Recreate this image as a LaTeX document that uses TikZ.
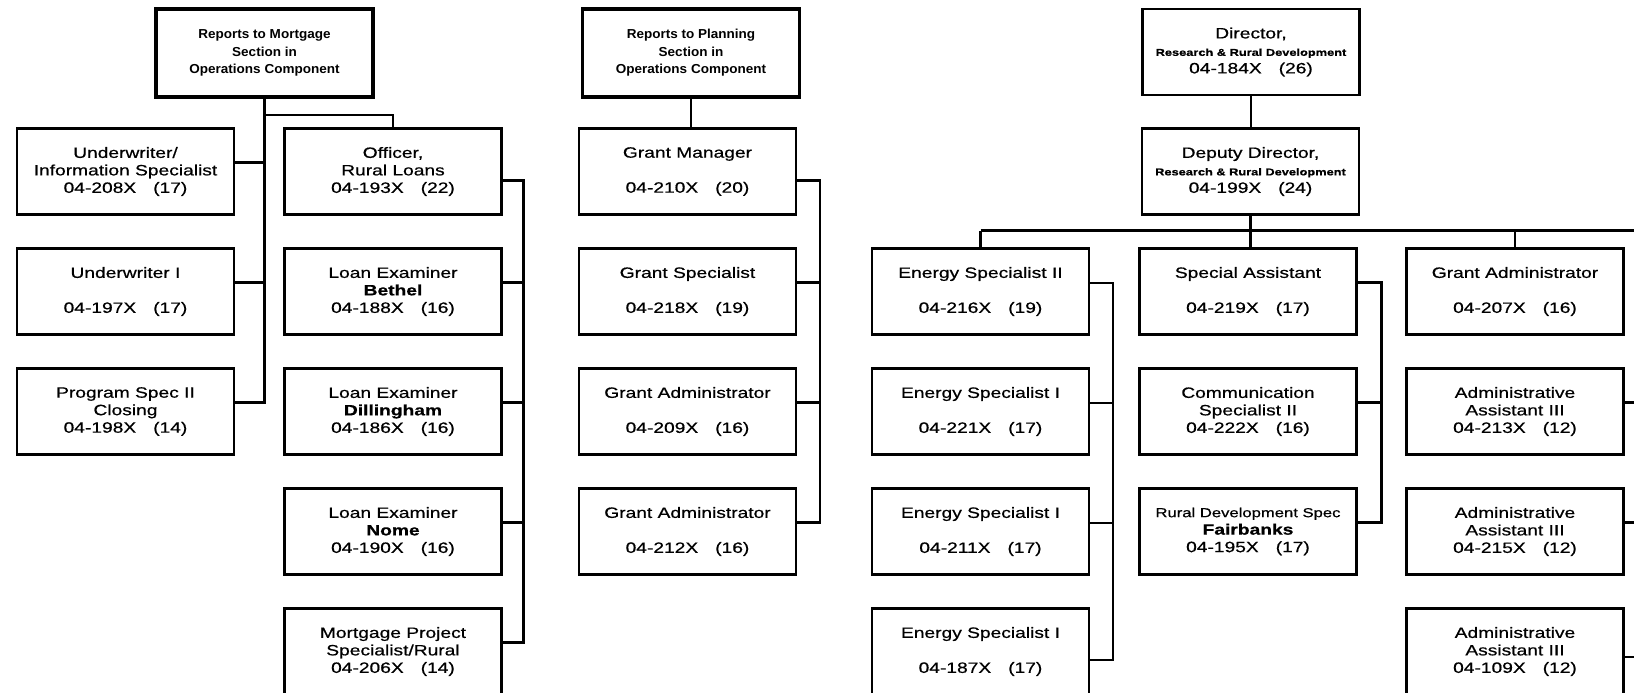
\documentclass[tikz,border=0pt]{standalone}
\usepackage{fontspec}
\setmainfont{Liberation Sans}
\newfontfamily\boxfont[FakeStretch=1.28, FakeBold=0.6]{Liberation Sans}
\newfontfamily\headfont[FakeStretch=1.04]{Liberation Sans}
\usetikzlibrary{calc}

% position code and grade, e.g. 04-208X   (17)
\newcommand\posnum[2]{#1\hspace{17pt}(#2)}
% small bold line under a title
\newcommand\subline[1]{{\fontsize{10}{17.5}\selectfont\bfseries #1}}

\tikzset{
  post/.style={draw, rectangle, line width=2.2pt, minimum width=217pt,
    minimum height=86pt, inner sep=0pt, align=center,
    font=\boxfont\fontsize{15}{17.5}\selectfont},
  head/.style={post, line width=3.5pt, minimum height=88pt,
    font=\headfont\fontsize{13}{17.5}\selectfont\bfseries},
  conn/.style={draw, line width=2.4pt},
}

\begin{document}
\begin{tikzpicture}[x=1pt, y=-1pt]
\useasboundingbox (0,0) rectangle (1634,693);
\clip (0,0) rectangle (1634,693);
\fill[white] (0,0) rectangle (1634,693);

% ---------------- Mortgage section ----------------
\node[head] (mort) at (264.5,53) {Reports to Mortgage\\Section in\\Operations Component};

\node[post] (a1) at (125.5,171.5) {Underwriter/\\Information Specialist\\\posnum{04-208X}{17}};
\node[post] (a2) at (125.5,291.5) {Underwriter I\\[17.5pt]\posnum{04-197X}{17}};
\node[post] (a3) at (125.5,411.5) {Program Spec II\\Closing\\\posnum{04-198X}{14}};

\node[post] (b1) at (393,171.5) {Officer,\\Rural Loans\\\posnum{04-193X}{22}};
\node[post] (b2) at (393,291.5) {Loan Examiner\\\textbf{Bethel}\\\posnum{04-188X}{16}};
\node[post] (b3) at (393,411.5) {Loan Examiner\\\textbf{Dillingham}\\\posnum{04-186X}{16}};
\node[post] (b4) at (393,531.5) {Loan Examiner\\\textbf{Nome}\\\posnum{04-190X}{16}};
\node[post] (b5) at (393,651.5) {Mortgage Project\\Specialist/Rural\\\posnum{04-206X}{14}};

% ---------------- Planning section ----------------
\node[head] (plan) at (691,53) {Reports to Planning\\Section in\\Operations Component};

\node[post] (g1) at (687.5,171.5) {Grant Manager\\[17.5pt]\posnum{04-210X}{20}};
\node[post] (g2) at (687.5,291.5) {Grant Specialist\\[17.5pt]\posnum{04-218X}{19}};
\node[post] (g3) at (687.5,411.5) {Grant Administrator\\[17.5pt]\posnum{04-209X}{16}};
\node[post] (g4) at (687.5,531.5) {Grant Administrator\\[17.5pt]\posnum{04-212X}{16}};

% ---------------- Research & Rural Development ----------------
\node[post] (dir) at (1251,52) {Director,\\\subline{Research \& Rural Development}\\\posnum{04-184X}{26}};
\node[post] (dep) at (1250.5,171.5) {Deputy Director,\\\subline{Research \& Rural Development}\\\posnum{04-199X}{24}};

\node[post] (e1) at (980.5,291.5) {Energy Specialist II\\[17.5pt]\posnum{04-216X}{19}};
\node[post] (e2) at (980.5,411.5) {Energy Specialist I\\[17.5pt]\posnum{04-221X}{17}};
\node[post] (e3) at (980.5,531.5) {Energy Specialist I\\[17.5pt]\posnum{04-211X}{17}};
\node[post] (e4) at (980.5,651.5) {Energy Specialist I\\[17.5pt]\posnum{04-187X}{17}};

\node[post] (s1) at (1248,291.5) {Special Assistant\\[17.5pt]\posnum{04-219X}{17}};
\node[post] (s2) at (1248,411.5) {Communication\\Specialist II\\\posnum{04-222X}{16}};
\node[post] (s3) at (1248,531.5) {{\fontsize{13}{17.5}\selectfont Rural Development Spec}\\\textbf{Fairbanks}\\\posnum{04-195X}{17}};

\node[post] (r1) at (1515,291.5) {Grant Administrator\\[17.5pt]\posnum{04-207X}{16}};
\node[post] (r2) at (1515,411.5) {Administrative\\Assistant III\\\posnum{04-213X}{12}};
\node[post] (r3) at (1515,531.5) {Administrative\\Assistant III\\\posnum{04-215X}{12}};
\node[post] (r4) at (1515,651.5) {Administrative\\Assistant III\\\posnum{04-109X}{12}};

% free end of the lines running off to the right
\coordinate (edge) at (1645,0);

% ---------------- connectors: Mortgage section ----------------
\foreach \n in {a1,a2,a3} \coordinate (\n-s) at ([yshift=9pt]\n.east);
\draw[conn] (mort.south) |- (a3-s);
\foreach \n in {a1,a2} \draw[conn] (\n-s) -- (\n-s -| mort.south);
\coordinate (mort-b) at ($(mort.south)+(0,16)$);
\draw[conn] (mort-b) -| (b1.north);

\coordinate (b1-s) at ([yshift=-9pt]b1.east);
\foreach \n in {b2,b3,b4,b5} \coordinate (\n-s) at ([yshift=9pt]\n.east);
\coordinate (b-v) at ($(b1-s)+(21,0)$);
\draw[conn] (b1-s) -- (b-v) |- (b5-s);
\foreach \n in {b2,b3,b4} \draw[conn] (\n-s) -- (\n-s -| b-v);

% ---------------- connectors: Planning section ----------------
\draw[conn] (plan.south) -- (plan.south |- g1.north);
\coordinate (g1-s) at ([yshift=-9pt]g1.east);
\foreach \n in {g2,g3,g4} \coordinate (\n-s) at ([yshift=9pt]\n.east);
\coordinate (g-v) at ($(g1-s)+(23,0)$);
\draw[conn] (g1-s) -- (g-v) |- (g4-s);
\foreach \n in {g2,g3} \draw[conn] (\n-s) -- (\n-s -| g-v);

% ---------------- connectors: Research & Rural Development ----------------
\draw[conn] (dir.south) -- (dir.south |- dep.north);
\coordinate (bus) at ($(dep.south)+(0,15)$);
\draw[conn] (dep.south) -- (bus);
\draw[conn] (bus -| e1.north) -- (bus -| edge);
\draw[conn] (bus -| e1.north) -- (e1.north);
\draw[conn] (bus) -- (bus |- s1.north);
\draw[conn] (bus -| r1.north) -- (r1.north);

\foreach \n in {e1,e2,e3} \coordinate (\n-s) at ([yshift=8.5pt]\n.east);
\coordinate (e4-s) at ([yshift=-8.5pt]e4.east);
\coordinate (e-v) at ($(e1-s)+(23,0)$);
\draw[conn] (e1-s) -- (e-v) |- (e4-s);
\foreach \n in {e2,e3} \draw[conn] (\n-s) -- (\n-s -| e-v);

\foreach \n in {s1,s2,s3} \coordinate (\n-s) at ([yshift=9pt]\n.east);
\coordinate (s-v) at ($(s1-s)+(24,0)$);
\draw[conn] (s1-s) -- (s-v) |- (s3-s);
\draw[conn] (s2-s) -- (s2-s -| s-v);

\foreach \n in {r2,r3} \coordinate (\n-s) at ([yshift=9pt]\n.east);
\coordinate (r4-s) at ([yshift=-5.5pt]r4.east);
\foreach \n in {r2,r3,r4} \draw[conn] (\n-s) -- (\n-s -| edge);
\end{tikzpicture}
\end{document}
